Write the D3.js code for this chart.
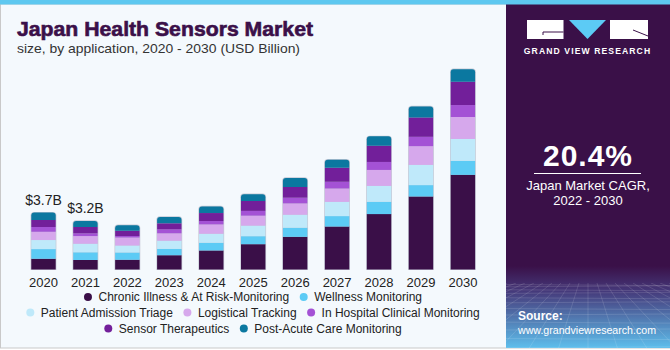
<!DOCTYPE html>
<html>
<head>
<meta charset="utf-8">
<script src="https://cdn.jsdelivr.net/npm/d3@7/dist/d3.min.js"></script>
<style>
  body { margin: 0; background: #ffffff; }
  svg { display: block; }
</style>
</head>
<body>
<svg id="chart" width="670" height="350"></svg>
<script>
// years on the x axis
var years = ["2020", "2021", "2022", "2023", "2024", "2025", "2026", "2027", "2028", "2029", "2030"];

// series values in USD billion
var chronicIllness   = [0.70, 0.62, 0.64, 0.93, 1.24, 1.65, 2.13, 2.80, 3.61, 4.76, 6.17];
var wellness         = [0.63, 0.50, 0.46, 0.41, 0.50, 0.52, 0.59, 0.68, 0.80, 0.74, 0.91];
var admissionTriage  = [0.59, 0.56, 0.46, 0.54, 0.59, 0.69, 0.85, 0.93, 1.04, 1.32, 1.43];
var logistical       = [0.54, 0.50, 0.52, 0.48, 0.61, 0.65, 0.74, 0.87, 1.04, 1.22, 1.43];
var inHospital       = [0.31, 0.18, 0.11, 0.26, 0.22, 0.31, 0.37, 0.44, 0.52, 0.61, 0.78];
var therapeutics     = [0.46, 0.41, 0.33, 0.39, 0.52, 0.65, 0.70, 0.91, 1.06, 1.26, 1.52];
var postAcute        = [0.48, 0.39, 0.37, 0.41, 0.43, 0.44, 0.59, 0.52, 0.61, 0.72, 0.81];

var seriesNames = [
  "Chronic Illness & At Risk-Monitoring",
  "Wellness Monitoring",
  "Patient Admission Triage",
  "Logistical Tracking",
  "In Hospital Clinical Monitoring",
  "Sensor Therapeutics",
  "Post-Acute Care Monitoring"
];
var seriesColors = ["#3a0f48", "#5ccbf5", "#bfe9fa", "#d6a8ec", "#a452d5", "#721f9a", "#0b78a0"];

// only the first two bars carry a total label
var valueLabels = ["$3.7B", "$3.2B"];

var svg = d3.select("#chart");
var fontFamily = "'Liberation Sans', Arial, sans-serif";

// build a table for d3.stack from the arrays above
var seriesData = [chronicIllness, wellness, admissionTriage, logistical, inHospital, therapeutics, postAcute];
var table = years.map(function (year, i) {
  var row = { year: year };
  seriesNames.forEach(function (name, s) { row[name] = seriesData[s][i]; });
  return row;
});
var stacked = d3.stack().keys(seriesNames)(table);

// background + frame
svg.append("rect").attr("x", 0).attr("y", 0).attr("width", 670).attr("height", 350).attr("fill", "#ffffff");
svg.append("rect").attr("x", 0.5).attr("y", 4).attr("width", 669).attr("height", 344)
  .attr("fill", "#f4f9fd").attr("stroke", "#c9c9c9").attr("stroke-width", 1);

// right hand panel with gradient
var defs = svg.append("defs");
var grad = defs.append("linearGradient").attr("id", "panelGrad")
  .attr("gradientUnits", "userSpaceOnUse").attr("x1", 0).attr("y1", 0).attr("x2", 0).attr("y2", 350);
grad.append("stop").attr("offset", "0%").attr("stop-color", "#3a1048");
grad.append("stop").attr("offset", "76%").attr("stop-color", "#3a1048");
grad.append("stop").attr("offset", "83%").attr("stop-color", "#453879");
grad.append("stop").attr("offset", "100%").attr("stop-color", "#5fc3f0");

svg.append("rect").attr("x", 506).attr("y", 4).attr("width", 164).attr("height", 344).attr("fill", "url(#panelGrad)");

// perspective grid at the bottom of the panel
defs.append("clipPath").attr("id", "gridClip")
  .append("rect").attr("x", 506).attr("y", 283).attr("width", 164).attr("height", 65);
var grid = svg.append("g").attr("clip-path", "url(#gridClip)")
  .attr("stroke", "#ffffff").attr("stroke-opacity", 0.16).attr("stroke-width", 0.8).attr("fill", "none");
d3.range(1, 16).forEach(function (k) {
  var y = 283 + k * k * 0.35 + k * 1.2;
  grid.append("line").attr("x1", 506).attr("x2", 670).attr("y1", y).attr("y2", y + (k % 2 ? 1 : -1));
});
d3.range(-20, 21).forEach(function (k) {
  grid.append("line").attr("x1", 588 + k * 9).attr("y1", 283).attr("x2", 588 + k * 30).attr("y2", 350);
});

// top strip
svg.append("rect").attr("x", 0).attr("y", 0).attr("width", 670).attr("height", 4.5).attr("fill", "#5ec8f0");

// logo
var logo = svg.append("g");
logo.append("rect").attr("x", 527).attr("y", 20).attr("width", 36.5).attr("height", 19).attr("fill", "#ffffff");
logo.append("path").attr("d", "M543,35 V32 H563.5").attr("stroke", "#3a1048").attr("stroke-width", 1).attr("fill", "none");
logo.append("path").attr("d", "M569,20 L606,20 L587.5,39 Z").attr("fill", "#5ccbf5");
logo.append("rect").attr("x", 610).attr("y", 20).attr("width", 38).attr("height", 19).attr("fill", "#ffffff");
logo.append("path").attr("d", "M633,30 L648,36").attr("stroke", "#3a1048").attr("stroke-width", 1);
logo.append("text").attr("x", 587.5).attr("y", 54).attr("text-anchor", "middle")
  .attr("font-family", fontFamily).attr("font-weight", "bold").attr("font-size", 8.6)
  .attr("letter-spacing", 1.1).attr("fill", "#ffffff").text("GRAND VIEW RESEARCH");

// CAGR block
svg.append("text").attr("x", 588).attr("y", 166).attr("text-anchor", "middle")
  .attr("font-family", fontFamily).attr("font-weight", "bold").attr("font-size", 30)
  .attr("letter-spacing", 1).attr("fill", "#ffffff").text("20.4%");
svg.append("line").attr("x1", 534).attr("x2", 641).attr("y1", 173.5).attr("y2", 173.5)
  .attr("stroke", "#ffffff").attr("stroke-width", 1);
svg.append("text").attr("x", 588).attr("y", 190).attr("text-anchor", "middle")
  .attr("font-family", fontFamily).attr("font-size", 13).attr("fill", "#ffffff").text("Japan Market CAGR,");
svg.append("text").attr("x", 588).attr("y", 205).attr("text-anchor", "middle")
  .attr("font-family", fontFamily).attr("font-size", 13).attr("fill", "#ffffff").text("2022 - 2030");

// source
svg.append("text").attr("x", 518).attr("y", 320).attr("font-family", fontFamily)
  .attr("font-weight", "bold").attr("font-size", 12).attr("fill", "#ffffff").text("Source:");
svg.append("text").attr("x", 518).attr("y", 334).attr("font-family", fontFamily)
  .attr("font-size", 11.5).attr("textLength", 138).attr("lengthAdjust", "spacingAndGlyphs")
  .attr("fill", "#ffffff").text("www.grandviewresearch.com");

// title
svg.append("text").attr("x", 17).attr("y", 35.5).attr("font-family", fontFamily)
  .attr("font-weight", "bold").attr("font-size", 20).attr("fill", "#3b1049")
  .attr("stroke", "#3b1049").attr("stroke-width", 0.6)
  .attr("textLength", 296).attr("lengthAdjust", "spacingAndGlyphs").text("Japan Health Sensors Market");
svg.append("text").attr("x", 17).attr("y", 53).attr("font-family", fontFamily)
  .attr("font-size", 13).attr("fill", "#333333")
  .attr("textLength", 283).attr("lengthAdjust", "spacingAndGlyphs")
  .text("size, by application, 2020 - 2030 (USD Billion)");

// scales
var x = d3.scaleBand().domain(years).range([18.7, 487.7]).paddingInner(0.418).paddingOuter(0.3);
var y = d3.scaleLinear().domain([0, 13.05]).range([269.5, 69.3]);

// rounded top helper
function roundedTop(x0, y0, w, h, r) {
  return "M" + x0 + "," + (y0 + h) + "V" + (y0 + r) + "Q" + x0 + "," + y0 + " " + (x0 + r) + "," + y0 +
    "H" + (x0 + w - r) + "Q" + (x0 + w) + "," + y0 + " " + (x0 + w) + "," + (y0 + r) + "V" + (y0 + h) + "Z";
}

// faint outline behind each bar
var totals = table.map(function (d) { return d3.sum(seriesNames, function (k) { return d[k]; }); });
svg.append("g").selectAll("path").data(years).enter().append("path")
  .attr("d", function (d, i) {
    return roundedTop(x(d) - 0.7, y(totals[i]) - 0.7, x.bandwidth() + 1.4, y(0) - y(totals[i]) + 1.2, 3.5);
  })
  .attr("fill", "#c5c9d6");

// stacked bars
var layers = svg.append("g").selectAll("g").data(stacked).enter().append("g")
  .attr("fill", function (d, i) { return seriesColors[i]; });
layers.each(function (layer, li) {
  d3.select(this).selectAll("path").data(layer).enter().append("path")
    .attr("d", function (d) {
      var x0 = x(d.data.year), w = x.bandwidth();
      var top = y(d[1]), h = y(d[0]) - y(d[1]);
      if (li === stacked.length - 1) return roundedTop(x0, top, w, h, 3);
      return "M" + x0 + "," + top + "h" + w + "v" + h + "h" + (-w) + "Z";
    });
});

// value labels on the first bars
svg.append("g").selectAll("text").data(valueLabels).enter().append("text")
  .attr("x", function (d, i) { return x(years[i]) + x.bandwidth() / 2; })
  .attr("y", function (d, i) { return y(totals[i]) - 8; })
  .attr("text-anchor", "middle").attr("font-family", fontFamily).attr("font-size", 14)
  .attr("fill", "#222222").text(function (d) { return d; });

// x axis labels
var xAxis = svg.append("g").attr("transform", "translate(0,270)")
  .call(d3.axisBottom(x).tickSize(0).tickPadding(8));
xAxis.select(".domain").remove();
xAxis.selectAll("text").attr("font-family", fontFamily).attr("font-size", 13).attr("fill", "#222222");

// legend, three centred rows
var legendRows = [[0, 1], [2, 3, 4], [5, 6]];
var legendY = [297, 312.5, 328.5];
var legendCenter = 253;
legendRows.forEach(function (row, r) {
  var g = svg.append("g");
  var cursor = 0;
  row.forEach(function (s, j) {
    if (j > 0) cursor += 14.5;
    g.append("circle").attr("cx", cursor).attr("cy", legendY[r]).attr("r", 4).attr("fill", seriesColors[s]);
    var t = g.append("text").attr("x", cursor + 10.5).attr("y", legendY[r] + 4.2)
      .attr("font-family", fontFamily).attr("font-size", 12).attr("fill", "#222222").text(seriesNames[s]);
    cursor += 10.5 + t.node().getComputedTextLength();
  });
  var rowWidth = cursor + 4;
  g.attr("transform", "translate(" + (legendCenter - rowWidth / 2 + 4) + ",0)");
});
</script>
</body>
</html>
